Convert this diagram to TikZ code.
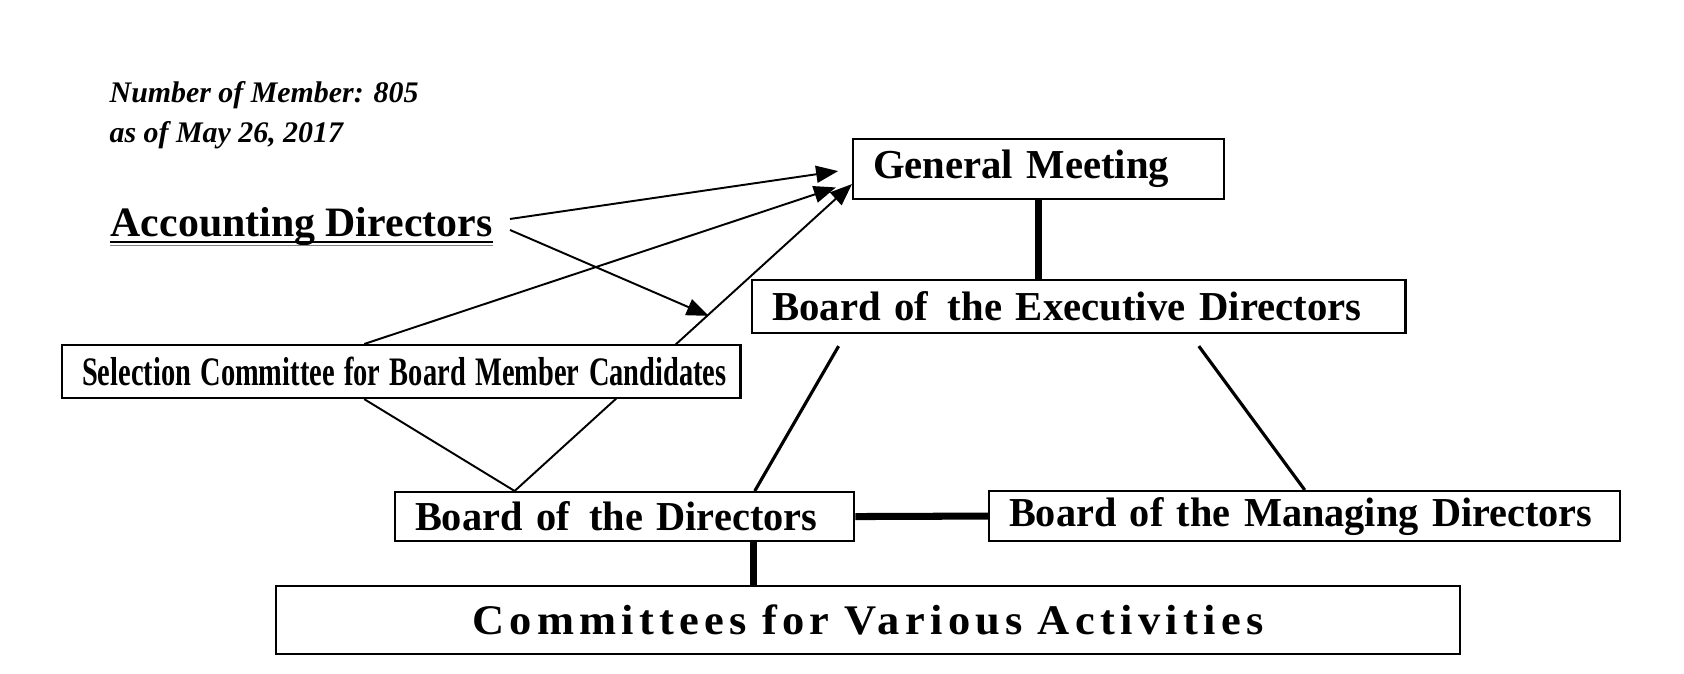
\documentclass[tikz,border=0pt]{standalone}
\usepackage{fontspec}
\setmainfont{Liberation Serif}
\newfontfamily\spacedfont[LetterSpace=12, WordSpace=2]{Liberation Serif}
\usetikzlibrary{arrows.meta, backgrounds}
\tikzstyle{orgbox} = [rectangle,
                      anchor=north west,
                      draw=black,
                      line width=0.6pt,
                      fill=white,
                      inner xsep=0.2cm,
                      inner ysep=0pt,
                      align=left,
                     ]
\tikzstyle{note} = [anchor=base west,
                    inner sep=0pt,
                   ]
\tikzstyle{arrow} = [line width=0.55pt,-{Triangle[length=0.22cm,width=0.17cm]}]
\tikzstyle{link} = [line width=0.55pt]
\tikzstyle{midlink} = [line width=0.9pt]
\tikzstyle{heavylink} = [line width=2pt]
\newcommand{\boxfont}[1]{\fontsize{#1}{14}\selectfont\bfseries}
\newcommand{\fitw}[2]{\resizebox{#1}{\height}{#2}}

\begin{document}
\begin{tikzpicture}[x=0.01cm, y=-0.01cm]
\useasboundingbox (0,0) rectangle (1684,674);

\node (members) [note, font=\fontsize{8.5}{10}\selectfont\bfseries\itshape] at (109,103) {Number of Member: 805};
\node (date) [note, font=\fontsize{8.5}{10}\selectfont\bfseries\itshape] at (109,143) {as of May 26, 2017};
\node (acct) [note, font=\boxfont{11.9}] at (110,237) {Accounting Directors};
\draw [line width=0.6pt] ([yshift=-0.05cm]acct.base west) -- ([yshift=-0.05cm]acct.base east);
\draw [line width=0.4pt, gray] ([yshift=-0.085cm]acct.base west) -- ([yshift=-0.085cm]acct.base east);

\node (gm) [orgbox, minimum height=0.60cm, text width=3.31cm, font=\boxfont{11.7}] at (852,138) {\fitw{2.96cm}{General Meeting}};
\node (exec) [orgbox, minimum height=0.53cm, text width=6.13cm, font=\boxfont{11.7}] at (751,279) {\fitw{5.89cm}{Board of\hspace{0.15em} the Executive Directors}};
\node (sel) [orgbox, minimum height=0.53cm, text width=6.38cm, font=\boxfont{11.5}] at (61,344) {\fitw{6.44cm}{Selection Committee for Board Member Candidates}};
\node (bod) [orgbox, minimum height=0.49cm, text width=4.19cm, font=\boxfont{11.7}] at (394,491) {\fitw{4.02cm}{Board of\hspace{0.15em} the Directors}};
\node (man) [orgbox, minimum height=0.50cm, text width=5.91cm, font=\boxfont{11.7}] at (988,490) {\fitw{5.83cm}{Board of the Managing Directors}};
\node (com) [orgbox, minimum height=0.68cm, text width=11.43cm, align=center, font=\spacedfont\boxfont{12}] at (275,585) {\fitw{7.91cm}{Committees for Various Activities}};

\begin{pgfonlayer}{background}
\draw [arrow, shorten >=0.14cm] ([xshift=0.17cm,yshift=0.18cm]acct.base east) -- (gm.west);
\draw [arrow, shorten >=0.46cm] ([xshift=0.17cm,yshift=0.07cm]acct.base east) -- (exec.south west);
\draw [arrow, shorten >=0.17cm] ([xshift=-0.37cm]sel.north) -- ([yshift=-0.13cm]gm.west);
\draw [arrow] ([xshift=-1.1cm]bod.north) -- ([yshift=-0.15cm]gm.west);
\draw [link] ([xshift=-0.37cm]sel.south) -- ([xshift=-1.1cm]bod.north);

\draw [midlink] ([xshift=-2.4cm,yshift=-0.12cm]exec.south) -- ([xshift=1.3cm]bod.north);
\draw [midlink] ([xshift=1.2cm,yshift=-0.12cm]exec.south) -- (man.north);

\coordinate (bodfoot) at ([xshift=1.285cm]bod.south);
\draw [heavylink] (gm.south) -- (gm.south |- exec.north);
\draw [heavylink] (bod.east) -- (man.west);
\draw [heavylink] (bodfoot) -- (bodfoot |- com.north);
\end{pgfonlayer}

\end{tikzpicture}
\end{document}
